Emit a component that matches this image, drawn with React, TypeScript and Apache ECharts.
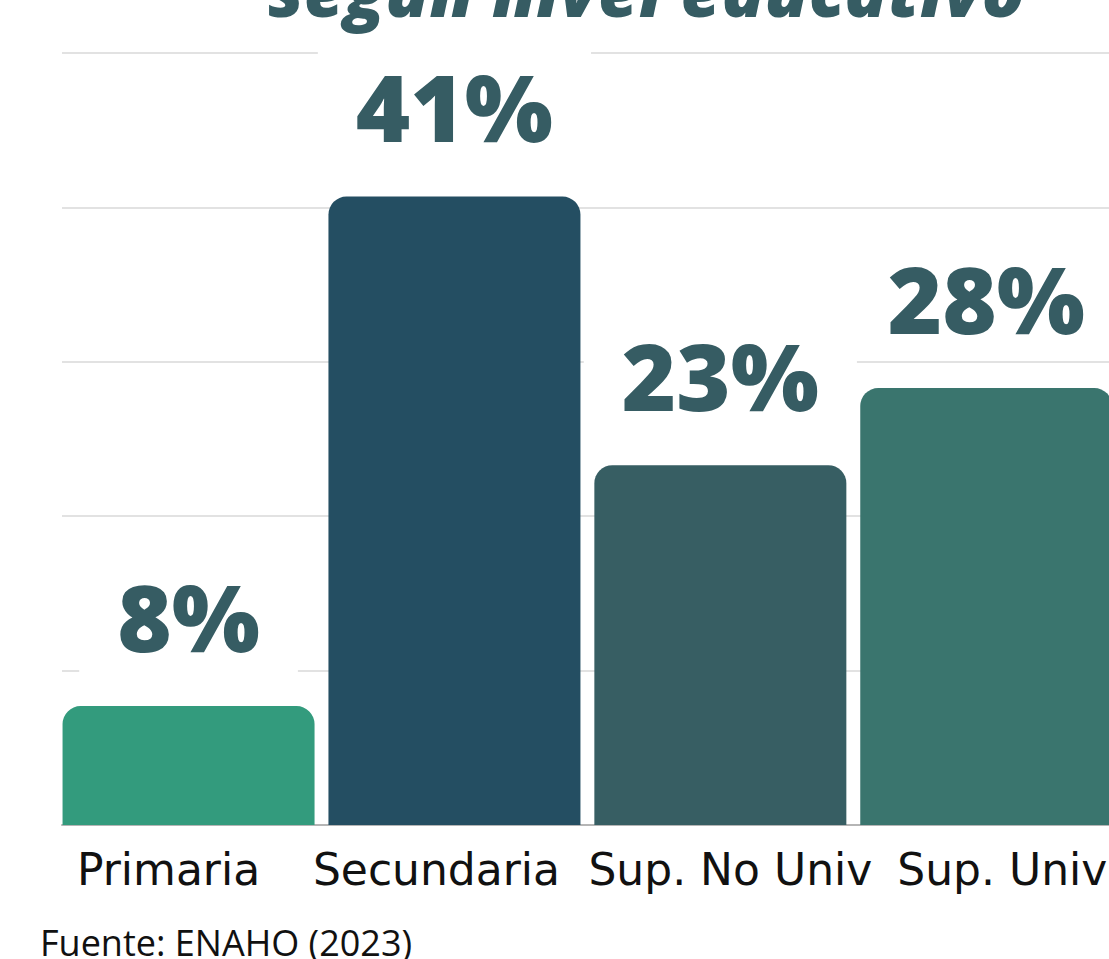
import React, { useEffect, useRef } from "react";
import * as echarts from "echarts";

const categories = ["Primaria", "Secundaria", "Sup. No Univ", "Sup. Univ"];
const values = [7.7, 40.7, 23.3, 28.3];
const barColors = ["#339b7d", "#244e62", "#375e63", "#3a756e"];
const categoryLabelShift = [-20, -18, 10, 16];
const yTicks = { min: 0, max: 50, interval: 10 };
const titleText = "según nivel educativo";
const sourceText = "Fuente: ENAHO (2023)";

export default function App() {
  const ref = useRef<HTMLDivElement>(null);
  useEffect(() => {
    if (!ref.current) return;
    const chart = echarts.init(ref.current, null, { renderer: "svg" });
    const labelColor = "#365c63";
    chart.setOption({
      animation: false,
      backgroundColor: "#ffffff",
      title: {
        text: titleText,
        left: 268,
        top: -46,
        padding: 0,
        textStyle: {
          fontFamily: "Open Sans",
          fontStyle: "italic",
          fontWeight: 800,
          fontSize: 71,
          color: labelColor,
        },
      },
      grid: [
        { left: 55.6, right: 20.8, top: 53, bottom: 134 },
        { left: 62, right: 0, top: 53, bottom: 134 },
      ],
      xAxis: [
        {
          type: "category",
          gridIndex: 0,
          data: categories.map((c, i) => {
            const s = categoryLabelShift[i];
            return {
              value: c,
              textStyle: {
                padding: s >= 0 ? [0, 0, 0, 2 * s] : [0, -2 * s, 0, 0],
              },
            };
          }),
          axisLine: { show: false },
          axisTick: { show: false },
          axisLabel: {
            interval: 0,
            margin: 22,
            fontFamily: "DejaVu Sans",
            fontSize: 44,
            color: "#111111",
          },
        },
        {
          type: "category",
          gridIndex: 1,
          data: [],
          axisLine: { show: true, lineStyle: { color: "#b5b5b5", width: 2 } },
          axisTick: { show: false },
          axisLabel: { show: false },
        },
      ],
      yAxis: [
        {
          type: "value",
          gridIndex: 0,
          ...yTicks,
          show: false,
          splitLine: { show: false },
        },
        {
          type: "value",
          gridIndex: 1,
          ...yTicks,
          axisLine: { show: false },
          axisTick: { show: false },
          axisLabel: { show: false },
          splitLine: { show: true, lineStyle: { color: "#d9d9d9", width: 1.5 } },
        },
      ],
      series: [
        {
          type: "bar",
          xAxisIndex: 0,
          yAxisIndex: 0,
          barWidth: 252,
          data: values.map((v, i) => ({
            value: v,
            itemStyle: { color: barColors[i], borderRadius: [18, 18, 0, 0] },
          })),
          label: {
            show: true,
            position: "top",
            distance: 34,
            formatter: (p: any) => Math.round(p.value) + "%",
            fontFamily: "Open Sans",
            fontWeight: 800,
            fontSize: 93,
            color: labelColor,
            backgroundColor: "#ffffff",
            padding: [40, 38, 10, 38],
          },
        },
      ],
      graphic: [
        {
          type: "text",
          left: 40,
          top: 924,
          style: {
            text: sourceText,
            fontFamily: "Open Sans",
            fontSize: 36,
            lineHeight: 34,
            fill: "#111111",
          },
        },
      ],
    });
    return () => chart.dispose();
  }, []);
  return (
    <div
      style={{
        position: "fixed",
        left: 0,
        top: 0,
        width: 1109,
        height: 959,
        overflow: "hidden",
        background: "#ffffff",
      }}
    >
      <div ref={ref} style={{ width: 1140, height: 959 }} />
    </div>
  );
}
